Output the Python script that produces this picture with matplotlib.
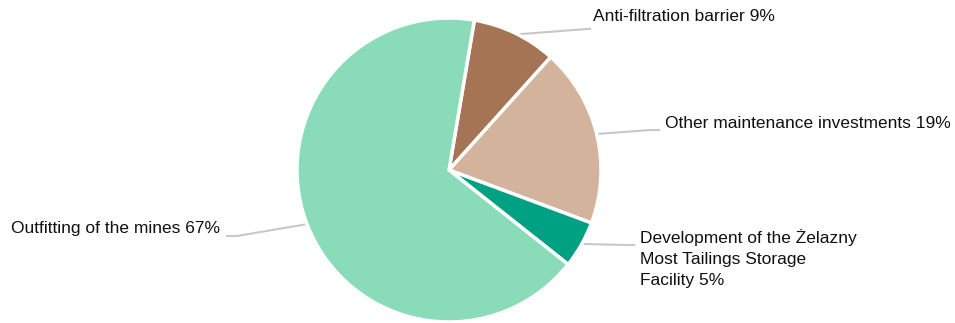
import numpy as np
import matplotlib.pyplot as plt

labels = ["Anti-filtration barrier 9%",
          "Other maintenance investments 19%",
          "Development of the Żelazny\nMost Tailings Storage\nFacility 5%",
          "Outfitting of the mines 67%"]
shares = [9, 19, 5, 67]
colors = ["#a57454", "#d3b39b", "#00a182", "#8adbb9"]

# layout of the leader lines / labels (data units, pie radius = 1)
elbows = [(0.914, 0.928), (1.322, 0.263), (1.145, -0.493), (-1.395, -0.434)]
ends = [(0.935, 0.928), (1.388, 0.263), (1.224, -0.493), (-1.467, -0.434)]
texts = [(0.95, 1.013, "left", "center"), (1.421, 0.309, "left", "center"),
         (1.257, -0.39, "left", "top"), (-1.507, -0.382, "right", "center")]

plt.rcParams["font.family"] = ["Liberation Sans", "DejaVu Sans"]

W, H, R = 955, 323, 152
cx, cy = 449, 170
fig = plt.figure(figsize=(W / 100, H / 100), dpi=100)
ax = fig.add_axes([0, 0, 1, 1])

start = 80.4
wedges, _ = ax.pie(shares, colors=colors, startangle=start, counterclock=False,
                   radius=1.0, center=(0, 0),
                   wedgeprops=dict(edgecolor="white", linewidth=2.5))

angle = start
for i, s in enumerate(shares):
    mid = np.deg2rad(angle - s * 3.6 / 2)
    angle -= s * 3.6
    p0 = (np.cos(mid) * 0.99, np.sin(mid) * 0.99)
    xs = [p0[0], elbows[i][0], ends[i][0]]
    ys = [p0[1], elbows[i][1], ends[i][1]]
    ax.plot(xs, ys, color="#c8c8c8", lw=1.5, solid_capstyle="butt", zorder=0)
    tx, ty, ha, va = texts[i]
    ax.text(tx, ty, labels[i], ha=ha, va=va, fontsize=12.5, color="#111111",
            linespacing=1.5)

ax.set_xlim(-cx / R, (W - cx) / R)
ax.set_ylim(-(H - cy) / R, cy / R)
ax.set_aspect("equal")
ax.axis("off")

fig.savefig("out.png", dpi=100)
